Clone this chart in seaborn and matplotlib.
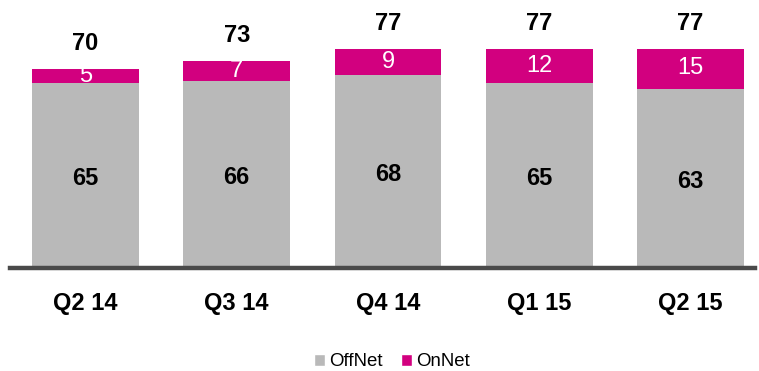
import matplotlib
matplotlib.use("Agg")
import matplotlib.pyplot as plt
from matplotlib.patches import Patch
import seaborn as sns
import pandas as pd

quarters = ["Q2 14", "Q3 14", "Q4 14", "Q1 15", "Q2 15"]
offnet = [65, 66, 68, 65, 63]
onnet = [5, 7, 9, 12, 15]
totals = [70, 73, 77, 77, 77]

GRAY = "#B9B9B9"
MAGENTA = "#D2007F"
BASE = "#4A4A4A"

sns.set_theme(style="white")
plt.rcParams["font.family"] = ["Liberation Sans", "DejaVu Sans"]

df = pd.DataFrame({"quarter": quarters, "offnet": offnet, "onnet": onnet, "total": totals})

W, H = 759, 371
fig = plt.figure(figsize=(W / 100, H / 100), dpi=100)

# axes placed in pixel terms: left 10, right 755, baseline at y=268, top at y=8
left_px, right_px, base_px, top_px = 10, 755, 268, 8
ax = fig.add_axes([left_px / W, (H - base_px) / H,
                   (right_px - left_px) / W, (base_px - top_px) / H])

# full-height bars in magenta, OffNet gray drawn over them gives the stacked look
sns.barplot(data=df, x="quarter", y="total", color=MAGENTA, width=0.707,
            saturation=1, ax=ax, linewidth=0)
sns.barplot(data=df, x="quarter", y="offnet", color=GRAY, width=0.707,
            saturation=1, ax=ax, linewidth=0)

spacing = 151.25
c0 = 85.5
ax.set_xlim((left_px - c0) / spacing, (right_px - c0) / spacing)
px_per_unit = 2.84
ax.set_ylim(0, (base_px - top_px) / px_per_unit)

for s in ["top", "right", "left"]:
    ax.spines[s].set_visible(False)
ax.spines["bottom"].set_color(BASE)
ax.spines["bottom"].set_linewidth(3.2)
ax.set_yticks([])
ax.set_xlabel("")
ax.set_ylabel("")
ax.tick_params(axis="x", length=0, pad=17)
for lbl in ax.get_xticklabels():
    lbl.set_fontsize(17)
    lbl.set_fontweight("bold")
    lbl.set_color("black")

for i, (o, n, t) in enumerate(zip(offnet, onnet, totals)):
    ax.annotate(f"{o}", xy=(i, o / 2), xytext=(0, -2.2), textcoords="offset points",
                ha="center", va="center", fontsize=17, fontweight="bold", color="black")
    ax.text(i, o + n / 2, f"{n}", ha="center", va="center", fontsize=17,
            color="white")
    ax.annotate(f"{t}", xy=(i, t), xytext=(0, 10), textcoords="offset points",
                ha="center", va="bottom", fontsize=17, fontweight="bold",
                color="black")

handles = [Patch(facecolor=GRAY, label="OffNet"), Patch(facecolor=MAGENTA, label="OnNet")]
leg = fig.legend(handles=handles, loc="center", bbox_to_anchor=(392 / W, (H - 362) / H),
                 ncol=2, frameon=False, fontsize=13.4, handlelength=0.6, handleheight=0.6,
                 handletextpad=0.2, columnspacing=1.0, borderpad=0)
for txt in leg.get_texts():
    txt.set_color("black")

fig.savefig("out.png", dpi=100)
